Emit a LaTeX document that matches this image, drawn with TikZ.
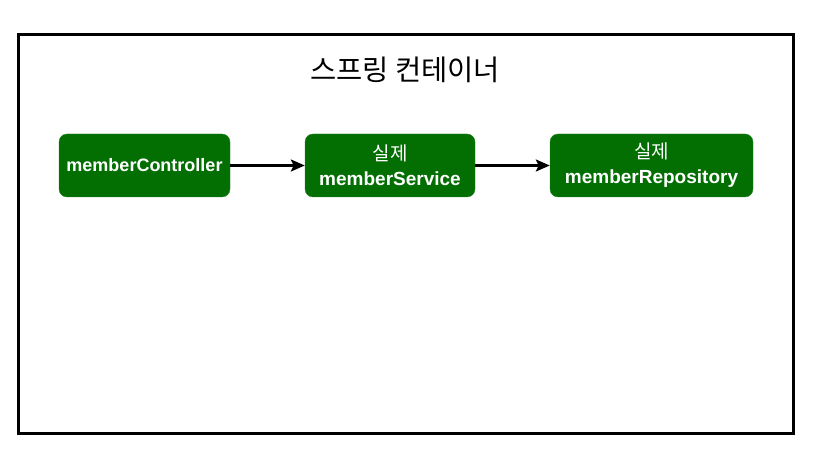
\documentclass[tikz,border=0pt]{standalone}
\usepackage{fontspec}
\setmainfont{Liberation Sans}
\newfontfamily\cjk{Noto Sans CJK KR}
\usetikzlibrary{arrows.meta}
\definecolor{beangreen}{HTML}{036F03}

\begin{document}
\begin{tikzpicture}[x=1pt, y=-1pt]
            \tikzstyle{bean} = [draw=beangreen!85!white, fill=beangreen, rounded corners=8pt,
                text=white, align=center, inner sep=0pt, minimum height=63pt,
                font=\fontsize{19}{25}\selectfont\bfseries]
            \tikzstyle{wire} = [line width=2.5pt, -{Stealth[length=14pt, width=12pt, inset=3pt]}]
            \useasboundingbox (0, 0) rectangle (827, 462);
            \draw[line width=3pt] (18, 35) rectangle (793, 433);
            \node (title) at (405, 70) {\cjk\fontsize{28.5}{32}\selectfont 스프링 컨테이너};
            \node[bean, minimum width=171pt, font=\fontsize{18}{25}\selectfont\bfseries] (controller) at (144.5, 165.5) {memberController};
            \node[bean, minimum width=170pt] (service) at (390, 165.5) {{\cjk\mdseries 실제}\\memberService};
            \node[bean, minimum width=203pt] (repository) at (651.5, 165.5) {{\cjk\mdseries 실제}\\memberRepository};
            \draw[wire] (controller) -- (service);
            \draw[wire] (service) -- (repository);
        \end{tikzpicture}
\end{document}
